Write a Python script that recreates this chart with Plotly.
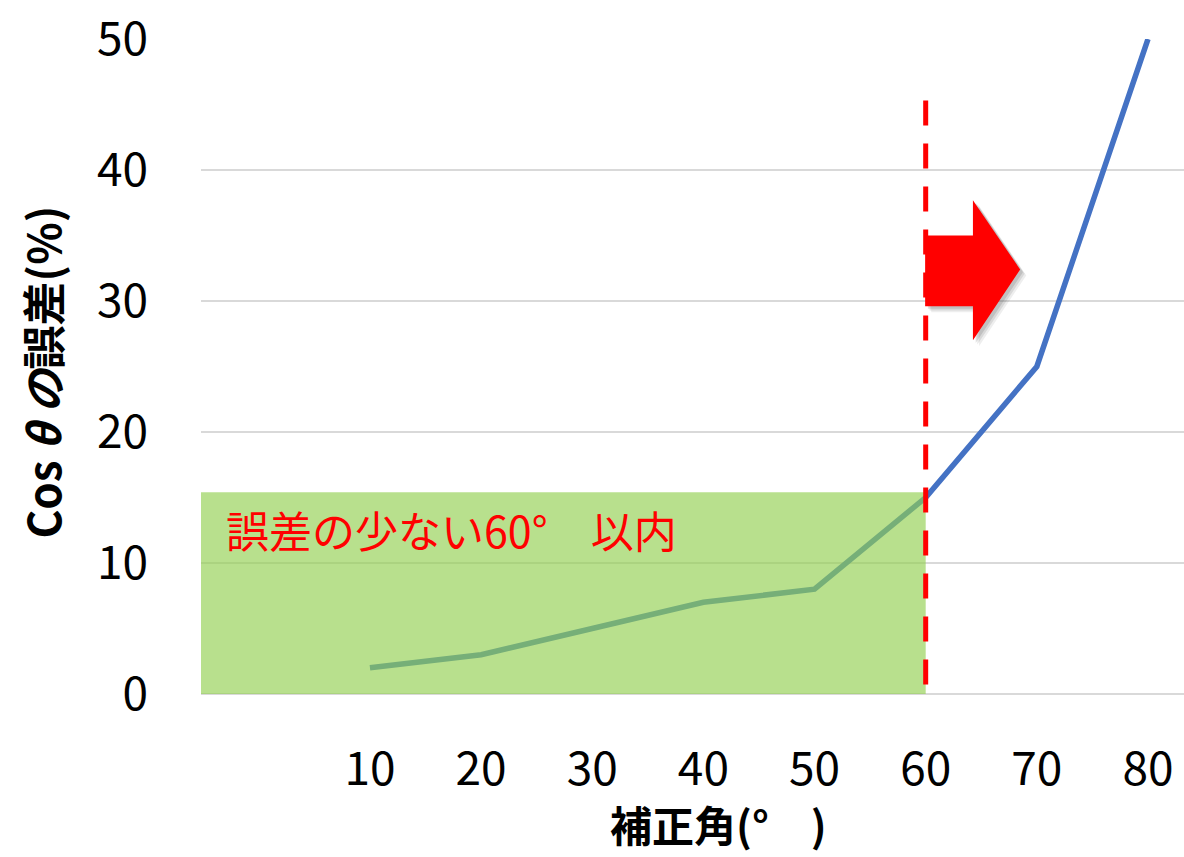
import plotly.graph_objects as go

# Correction angle (degrees) vs. Cos θ error (%)
angles = [10, 20, 30, 40, 50, 60, 70, 80]
errors = [2, 3, 5, 7, 8, 15, 25, 50]
y_ticks = [0, 10, 20, 30, 40, 50]

limit_angle = 60          # boundary of the low-error zone
zone_height = 15.4        # height of the shaded zone (%)
dash_top = 45.3           # top of the dashed boundary line (%)
zone_label = "誤差の少ない60°　以内"

FONT = "Noto Sans CJK JP"

fig = go.Figure()

fig.add_trace(go.Scatter(
    x=angles, y=errors, mode="lines",
    line=dict(color="#4472C4", width=5.5),
    hoverinfo="skip", showlegend=False,
))

# translucent green zone covering the low-error range
fig.add_shape(
    type="rect", xref="x", yref="y",
    x0=-5.2, x1=limit_angle, y0=0, y1=zone_height,
    fillcolor="#92D050", opacity=0.65, line_width=0, layer="above",
)

# dashed boundary at 60°
fig.add_shape(
    type="line", xref="x", yref="y",
    x0=limit_angle, x1=limit_angle, y0=dash_top, y1=0,
    line=dict(color="#FF0000", width=5, dash="25px,18px"), layer="above",
)

# block arrow pointing right, with a soft drop shadow
arrow_pts = [(59.95, 35.0), (64.25, 35.0), (64.25, 37.7), (68.5, 32.4),
             (64.25, 27.0), (64.25, 29.6), (59.95, 29.6)]


def arrow_path(dx=0.0, dy=0.0):
    pts = [(x + dx, y + dy) for x, y in arrow_pts]
    return "M " + " L ".join(f"{x},{y}" for x, y in pts) + " Z"


for dx, dy, op in [(0.55, -0.45, 0.10), (0.4, -0.32, 0.14), (0.25, -0.2, 0.18)]:
    fig.add_shape(type="path", xref="x", yref="y", path=arrow_path(dx, dy),
                  fillcolor="#555555", opacity=op, line_width=0, layer="above")
fig.add_shape(type="path", xref="x", yref="y", path=arrow_path(),
              fillcolor="#FF0000", line_width=0, layer="above")

fig.add_annotation(
    x=-3.1, y=12.6, xref="x", yref="y", text=zone_label, showarrow=False,
    xanchor="left", yanchor="middle",
    font=dict(family=FONT, size=43, color="#FF0000"),
)

# axis titles
fig.add_annotation(
    x=0, y=0.5, xref="paper", yref="paper", xshift=-160, yshift=-6,
    text="<b>Cos <i>θ の</i>誤差(%)</b>", textangle=-90, showarrow=False,
    xanchor="center", yanchor="middle",
    font=dict(family=FONT, size=44, color="#000000"),
)
fig.add_annotation(
    x=0.526, y=0, xref="paper", yref="paper", yshift=-129,
    text="<b>補正角(°　)</b>", showarrow=False,
    xanchor="center", yanchor="middle",
    font=dict(family=FONT, size=42, color="#000000"),
)

fig.update_xaxes(
    range=[-5.2, 83.24], tickvals=angles, ticktext=[str(a) for a in angles],
    showgrid=False, zeroline=False, showline=False, ticks="",
    ticklabelstandoff=44,
    tickfont=dict(family=FONT, size=46, color="#000000"),
)
fig.update_yaxes(
    range=[0, 50], tickvals=y_ticks,
    showgrid=True, gridcolor="#D9D9D9", gridwidth=2,
    zeroline=True, zerolinecolor="#D9D9D9", zerolinewidth=2,
    showline=False, ticks="", ticklabelstandoff=52,
    tickfont=dict(family=FONT, size=46, color="#000000"),
)

fig.update_layout(
    width=1184, height=857,
    margin=dict(l=201, r=0, t=39, b=163),
    paper_bgcolor="#FFFFFF", plot_bgcolor="#FFFFFF",
    showlegend=False,
)

fig.write_html("out.html")
